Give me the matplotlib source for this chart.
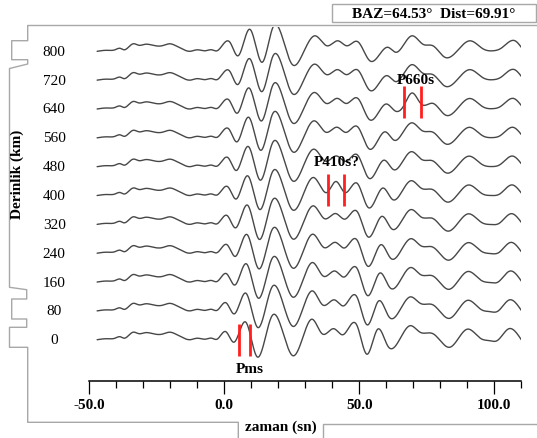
import numpy as np
import matplotlib

matplotlib.use("Agg")
import matplotlib.pyplot as plt
from matplotlib.lines import Line2D
from matplotlib.patches import Rectangle
from matplotlib.ticker import MultipleLocator, FixedLocator, FuncFormatter

W, H = 537, 439
FONT = "Liberation Serif"

DEPTHS = [0, 80, 160, 240, 320, 400, 480, 560, 640, 720, 800]

# shared pre-signal part (time s, amplitude)
EARLY = [(-47.1, 0.0), (-43.4, 0.01), (-40.5, 0.015), (-38.6, 0.03), (-37.1, 0.015),
         (-33.8, 0.075), (-31.6, 0.06), (-29.4, 0.07), (-26.4, 0.06), (-23.1, 0.055),
         (-20.1, 0.075), (-17.9, 0.055), (-15.7, 0.025), (-12.7, 0.0), (-10.1, 0.015),
         (-7.1, 0.005), (-4.6, 0.015), (-2.7, 0.005)]

TRACE_0 = [(0.6, .08), (3.6, -.025), (8.0, .175), (12.1, -.17), (17.7, .24), (25.4, -.16), (28.8, .0),
           (32.5, .205), (36.2, .06), (40.6, .11), (44.0, .05), (49.1, .145), (52.8, -.145), (56.8, .105),
           (60.6, -.065), (65.4, .025), (68.8, .14), (72.5, .075), (77.3, .06), (83.6, -.075), (89.9, .105),
           (95.1, .01), (98.4, -.01), (101.0, -.01), (105.4, .11), (110.0, .0)]
TRACE_80 = [(0.7, .08), (3.7, -.03), (8.1, .175), (12.3, -.165), (17.7, .24), (25.4, -.155), (28.8, .0),
            (32.6, .2), (36.4, .06), (40.8, .11), (44.2, .05), (49.1, .14), (52.9, -.14), (57.2, .1),
            (61.0, -.06), (65.5, .03), (68.9, .14), (72.6, .075), (77.3, .06), (83.4, -.075), (90.0, .105),
            (95.2, .012), (98.5, -.008), (101.2, -.005), (105.6, .11), (110.0, .005)]
TRACE_160 = [(0.9, .082), (3.9, -.03), (8.3, .18), (12.5, -.16), (17.8, .24), (25.3, -.15), (28.8, -.005),
             (32.7, .195), (36.6, .06), (41.0, .11), (44.4, .05), (49.2, .135), (53.0, -.135), (57.6, .09),
             (61.3, -.055), (65.6, .035), (69.0, .145), (72.7, .074), (77.3, .06), (83.2, -.073), (90.1, .105),
             (95.3, .014), (98.6, -.006), (101.4, .0), (105.8, .11), (110.0, .01)]
TRACE_240 = [(1.1, .083), (4.1, -.032), (8.5, .185), (12.7, -.155), (17.8, .24), (25.3, -.148), (28.8, -.01),
             (32.8, .19), (36.8, .058), (41.2, .108), (44.5, .052), (49.2, .13), (53.1, -.13), (58.0, .085),
             (61.6, -.05), (65.7, .038), (69.1, .145), (72.8, .074), (77.3, .06), (83.0, -.07), (90.2, .105),
             (95.4, .016), (98.7, -.004), (101.6, .005), (106.1, .108), (110.0, .015)]
TRACE_320 = [(1.2, .085), (4.2, -.035), (8.7, .19), (12.9, -.15), (17.8, .24), (25.3, -.145), (28.8, -.015),
             (33.0, .185), (37.0, .058), (41.3, .108), (44.7, .052), (49.3, .125), (53.2, -.125), (58.4, .08),
             (62.0, -.045), (65.8, .04), (69.2, .148), (72.9, .073), (77.3, .058), (82.8, -.068), (90.3, .105),
             (95.4, .017), (98.8, -.002), (101.8, .01), (106.3, .107), (110.0, .02)]
TRACE_400 = [(1.4, .085), (4.4, -.035), (8.8, .195), (13.1, -.14), (17.9, .24), (25.2, -.142), (28.8, -.02),
             (33.1, .18), (38.0, .03), (41.4, .14), (44.6, .03), (49.3, .12), (53.3, -.12), (58.8, .075),
             (62.3, -.04), (65.9, .045), (69.2, .148), (73.0, .072), (77.3, .058), (82.6, -.066), (90.4, .105),
             (95.5, .018), (98.9, .0), (102.0, .015), (106.6, .106), (110.0, .025)]
TRACE_480 = [(1.5, .087), (4.5, -.038), (9.0, .2), (13.3, -.135), (17.9, .24), (25.2, -.14), (28.8, -.025),
             (33.2, .175), (37.4, .056), (41.6, .107), (45.0, .053), (49.4, .115), (53.5, -.115), (59.2, .065),
             (62.7, -.03), (66.0, .05), (69.3, .15), (73.1, .072), (77.3, .057), (82.4, -.064), (90.5, .105),
             (95.6, .02), (99.0, .001), (102.1, .02), (106.8, .106), (110.0, .03)]
TRACE_560 = [(1.7, .088), (4.7, -.04), (9.1, .205), (13.5, -.125), (17.9, .24), (25.2, -.137), (28.8, -.03),
             (33.3, .17), (37.6, .056), (41.8, .106), (45.1, .054), (49.4, .11), (53.6, -.11), (59.6, .06),
             (63.0, -.025), (66.1, .052), (69.4, .15), (73.3, .071), (77.3, .056), (82.2, -.063), (90.7, .105),
             (95.6, .022), (99.2, .002), (102.2, .022), (107.0, .105), (110.0, .033)]
TRACE_640 = [(1.8, .088), (4.8, -.042), (9.2, .21), (13.7, -.12), (18.0, .24), (25.1, -.135), (28.8, -.033),
             (33.4, .165), (37.8, .055), (41.9, .106), (45.2, .055), (49.5, .105), (53.7, -.105), (60.0, .05),
             (63.3, -.02), (66.4, .03), (69.5, .16), (72.9, .05), (77.3, .056), (82.0, -.062), (90.8, .105),
             (95.7, .023), (99.3, .003), (102.3, .025), (107.2, .105), (110.0, .035)]
TRACE_720 = [(2.0, .09), (5.0, -.044), (9.4, .215), (13.9, -.115), (18.0, .24), (25.1, -.132), (28.8, -.037),
             (33.5, .16), (37.9, .055), (42.0, .105), (45.3, .055), (49.5, .1), (53.8, -.1), (60.3, .045),
             (63.5, -.015), (66.3, .058), (69.5, .155), (73.5, .07), (77.3, .055), (81.8, -.061), (90.9, .105),
             (95.8, .024), (99.4, .004), (102.4, .028), (107.5, .105), (110.0, .038)]
TRACE_800 = [(2.1, .09), (5.1, -.045), (9.5, .22), (14.0, -.11), (18.0, .24), (25.1, -.13), (28.8, -.04),
             (33.6, .155), (38.0, .055), (42.1, .105), (45.4, .055), (49.5, .095), (53.9, -.095), (60.6, .04),
             (63.6, -.01), (66.3, .06), (69.5, .155), (73.6, .07), (77.3, .055), (81.7, -.06), (91.0, .105),
             (95.8, .025), (99.5, .005), (102.5, .03), (107.7, .105), (110.0, .04)]

TRACES = [TRACE_0, TRACE_80, TRACE_160, TRACE_240, TRACE_320, TRACE_400,
          TRACE_480, TRACE_560, TRACE_640, TRACE_720, TRACE_800]

# picked phases (s)
PMS_T = [5.5, 9.6]
P410_T = [38.3, 44.5]
P660_T = [66.4, 72.9]

GAIN = 277.4  # amplitude -> depth units on the plot


def spline(x, y, xs):
    # natural cubic spline through the read points (drawing only)
    x = np.asarray(x, float)
    y = np.asarray(y, float)
    n = len(x)
    h = np.diff(x)
    A = np.zeros((n, n))
    b = np.zeros(n)
    A[0, 0] = A[-1, -1] = 1
    for i in range(1, n - 1):
        A[i, i - 1] = h[i - 1]
        A[i, i] = 2 * (h[i - 1] + h[i])
        A[i, i + 1] = h[i]
        b[i] = 6 * ((y[i + 1] - y[i]) / h[i] - (y[i] - y[i - 1]) / h[i - 1])
    M = np.linalg.solve(A, b)
    idx = np.clip(np.searchsorted(x, xs) - 1, 0, n - 2)
    hi = h[idx]
    dl = xs - x[idx]
    dr = x[idx + 1] - xs
    return (M[idx] * dr**3 / (6 * hi) + M[idx + 1] * dl**3 / (6 * hi)
            + (y[idx] / hi - M[idx] * hi / 6) * dr + (y[idx + 1] / hi - M[idx + 1] * hi / 6) * dl)


def px(x, y):
    return x / W, 1 - y / H


fig = plt.figure(figsize=(W / 100, H / 100), dpi=100)
fig.patch.set_facecolor("white")
ax = fig.add_axes([89.3 / W, 1 - 381.7 / H, 432 / W, (381.7 - 28) / H])
ax.set_xlim(-50, 110)
ax.set_ylim(-113.7, 867.4)
ax.patch.set_alpha(0)

for depth, trace in zip(DEPTHS, TRACES):
    pts = EARLY + trace
    t = [p[0] for p in pts]
    a = [p[1] for p in pts]
    ts = np.linspace(t[0], t[-1], 1500)
    ax.plot(ts, depth + GAIN * spline(t, a, ts), color="#474747", lw=1.0, solid_capstyle="round")
    ax.text(-63, depth, str(depth), ha="center", va="center", fontsize=11,
            family=FONT, clip_on=False)

red = "#ff1f1f"
ax.vlines(PMS_T, -44, 43.5, color=red, lw=2)
ax.vlines(P410_T, 371.7, 459.6, color=red, lw=2)
ax.vlines(P660_T, 615, 703, color=red, lw=2)
bold = dict(fontsize=11, fontweight="bold", family=FONT, ha="center", va="center")
ax.text(9.5, -81, "Pms", **bold)
ax.text(41.8, 493, "P410s?", **bold)
ax.text(71.0, 723, "P660s", **bold)

for side in ("left", "right", "top"):
    ax.spines[side].set_visible(False)
ax.spines["bottom"].set_linewidth(1.1)
ax.set_yticks([])
ax.xaxis.set_major_locator(FixedLocator([-50, 0, 50, 100]))
ax.xaxis.set_minor_locator(MultipleLocator(10))
ax.xaxis.set_major_formatter(FuncFormatter(lambda v, p: f"{v:.1f}"))
ax.tick_params(axis="x", which="major", direction="out", length=9.4, width=0.9, pad=3)
ax.tick_params(axis="x", which="minor", direction="out", length=5, width=0.9)
for lab in ax.get_xticklabels():
    lab.set_fontfamily(FONT)
    lab.set_fontweight("bold")
    lab.set_fontsize(11)

fig.text(*px(17, 174), "Derinlik (km)", rotation=90, **bold)
fig.text(*px(281, 427), "zaman (sn)", **bold)
fig.text(*px(434, 14), "BAZ=64.53\u00b0  Dist=69.91\u00b0", **bold)

# panel outline
gray = "#a8a8a8"
outline = [(537, 26.5), (27.7, 26.5), (27.7, 41.7), (11.7, 41.7), (11.7, 60.7), (27.7, 60.7),
           (27.7, 65), (9.5, 69.5), (9.5, 288.3), (26.7, 290.7), (26.7, 300), (11.7, 300),
           (11.7, 320), (26.7, 320), (26.7, 328.3), (9.5, 328.3), (9.5, 348.3), (27.7, 348.3),
           (27.7, 423.3), (238.3, 423.3), (238.3, 440)]
xs_, ys_ = zip(*[px(x, y) for x, y in outline])
fig.add_artist(Line2D(xs_, ys_, color=gray, lw=1))
tab = [(323.3, 440), (323.3, 425), (537, 425)]
xs_, ys_ = zip(*[px(x, y) for x, y in tab])
fig.add_artist(Line2D(xs_, ys_, color=gray, lw=1))
x0, y0 = px(332, 23.3)
fig.add_artist(Rectangle((x0, y0), (535.7 - 332) / W, (23.3 - 5) / H, fill=False,
                         edgecolor=gray, lw=1, transform=fig.transFigure))

fig.savefig("out.png", dpi=100)
